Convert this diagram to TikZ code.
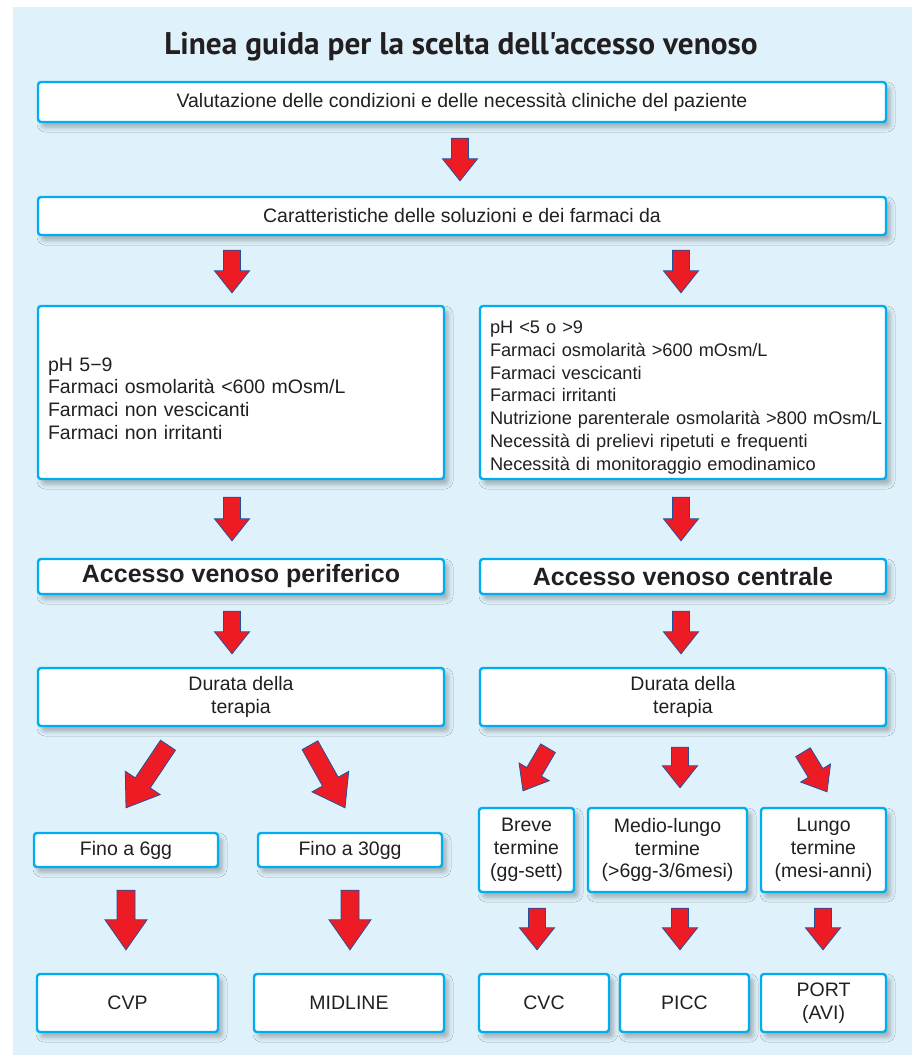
\documentclass[tikz,border=0pt]{standalone}
\usepackage{fontspec}
\setmainfont{Liberation Sans}
\newfontfamily\titlefont{PT Sans}
\usetikzlibrary{calc,shadows.blur}

\definecolor{bgblue}{HTML}{DFF1FA}
\definecolor{boxcyan}{HTML}{00AEEF}
\definecolor{arrred}{HTML}{ED1C24}
\definecolor{arrblue}{HTML}{23509C}
\definecolor{txtgray}{HTML}{231F20}

\tikzset{
  box/.style={draw=boxcyan, line width=2.4pt, fill=white, rounded corners=3pt,
    inner sep=0pt, align=center, text=txtgray, font=\fontsize{19.5}{22.8}\selectfont,
    blur shadow={shadow xshift=4pt, shadow yshift=-5pt, shadow blur radius=5pt, shadow opacity=30}},
  listbox/.style={box, align=left, inner xsep=10pt, text width=#1},
  headbox/.style={box, font=\fontsize{25}{28}\selectfont\bfseries},
  blockarrow/.style={fill=arrred, draw=arrblue, line width=0.8pt, line join=miter,
    to path={let \p1=(\tikztostart), \p2=(\tikztotarget),
      \n1={atan2(\y2-\y1,\x2-\x1)} in
      ({\x1-\aw*sin(\n1)},{\y1+\aw*cos(\n1)})
      -- ({\x2-\al*cos(\n1)-\aw*sin(\n1)},{\y2-\al*sin(\n1)+\aw*cos(\n1)})
      -- ({\x2-\al*cos(\n1)-\ah*sin(\n1)},{\y2-\al*sin(\n1)+\ah*cos(\n1)})
      -- (\p2)
      -- ({\x2-\al*cos(\n1)+\ah*sin(\n1)},{\y2-\al*sin(\n1)-\ah*cos(\n1)})
      -- ({\x2-\al*cos(\n1)+\aw*sin(\n1)},{\y2-\al*sin(\n1)-\aw*cos(\n1)})
      -- ({\x1+\aw*sin(\n1)},{\y1-\aw*cos(\n1)}) -- cycle}},
  arrsmall/.style={blockarrow, /utils/exec={\def\aw{8.5pt}\def\ah{17.5pt}\def\al{22pt}}},
  arrbig/.style={blockarrow, /utils/exec={\def\aw{9pt}\def\ah{21pt}\def\al{30pt}}},
}

\begin{document}
\begin{tikzpicture}[x=1pt, y=-1pt]
  % background
  \fill[white] (0,0) rectangle (915,1055);
  \fill[bgblue] (13,7) rectangle (912,1055);
  \useasboundingbox (0,0) rectangle (915,1055);

  \node[text=txtgray, font=\titlefont\fontsize{31.3}{33}\selectfont\bfseries] (title) at (461,47)
    {Linea guida per la scelta dell'accesso venoso};

  % top boxes
  \node[box, minimum width=848pt, minimum height=40pt] (val) at (462,102)
    {Valutazione delle condizioni e delle necessità cliniche del paziente};
  \node[box, minimum width=848pt, minimum height=38pt] (car) at (462,216)
    {Caratteristiche delle soluzioni e dei farmaci da};

  % criteria
  \node[listbox=386pt, minimum height=173pt] (lcrit) at (241,392.5)
    {pH 5−9\\Farmaci osmolarità <600 mOsm/L\\Farmaci non vescicanti\\Farmaci non irritanti\vspace{-12pt}};
  \node[listbox=386pt, minimum height=173pt, font=\fontsize{18.2}{22.7}\selectfont] (rcrit) at (683,392.5)
    {pH <5 o >9\\Farmaci osmolarità >600 mOsm/L\\Farmaci vescicanti\\Farmaci irritanti\\
     \mbox{Nutrizione parenterale osmolarità >800 mOsm/L}\\Necessità di prelievi ripetuti e frequenti\\
     Necessità di monitoraggio emodinamico\vspace{-10pt}};

  % access type
  \node[headbox, minimum width=406pt, minimum height=35pt] (lacc) at (241,576.5) {Accesso venoso periferico};
  \node[headbox, minimum width=406pt, minimum height=35pt] (racc) at (683,576.5) {Accesso venoso centrale};

  \node[box, minimum width=406pt, minimum height=58pt] (ldur) at (241,697) {Durata della\\terapia};
  \node[box, minimum width=406pt, minimum height=58pt] (rdur) at (683,697) {Durata della\\terapia};

  % duration
  \node[box, minimum width=184pt, minimum height=34pt] (fino6) at (126,850) {Fino a 6gg};
  \node[box, minimum width=184pt, minimum height=34pt] (fino30) at (350,850) {Fino a 30gg};
  \node[box, minimum width=95pt, minimum height=84pt] (breve) at (526.5,850) {Breve\\termine\\(gg-sett)};
  \node[box, minimum width=159pt, minimum height=84pt] (medio) at (667.5,850) {Medio-lungo\\termine\\(>6gg-3/6mesi)};
  \node[box, minimum width=125pt, minimum height=84pt] (lungo) at (823.5,850) {Lungo\\termine\\(mesi-anni)};

  % devices
  \node[box, minimum width=181pt, minimum height=58pt] (cvp) at (127.5,1003) {CVP};
  \node[box, minimum width=190pt, minimum height=58pt] (midline) at (349,1003) {MIDLINE};
  \node[box, minimum width=130pt, minimum height=58pt] (cvc) at (544,1003) {CVC};
  \node[box, minimum width=129pt, minimum height=58pt] (picc) at (684.5,1003) {PICC};
  \node[box, minimum width=125pt, minimum height=58pt] (port) at (823.5,1003) {PORT\\(AVI)};

  % arrows
  \draw[arrsmall] ([xshift=-2pt, yshift=-15pt]val.south) to ([xshift=-2pt, yshift=15pt]car.north);
  \draw[arrsmall] ([xshift=-230pt, yshift=-14pt]car.south) to ([xshift=-9pt, yshift=12pt]lcrit.north);
  \draw[arrsmall] ([xshift=219pt, yshift=-14pt]car.south) to ([xshift=-2pt, yshift=12pt]rcrit.north);
  \draw[arrsmall] ([xshift=-9pt, yshift=-17pt]lcrit.south) to ([xshift=-9pt, yshift=17pt]lacc.north);
  \draw[arrsmall] ([xshift=-2pt, yshift=-17pt]rcrit.south) to ([xshift=-2pt, yshift=17pt]racc.north);
  \draw[arrsmall] ([xshift=-9pt, yshift=-16pt]lacc.south) to ([xshift=-9pt, yshift=13pt]ldur.north);
  \draw[arrsmall] ([xshift=-2pt, yshift=-16pt]racc.south) to ([xshift=-2pt, yshift=13pt]rdur.north);

  \draw[arrbig] ([xshift=-73pt, yshift=-18pt]ldur.south) to ([yshift=24pt]fino6.north);
  \draw[arrbig] ([xshift=69pt, yshift=-18pt]ldur.south) to ([xshift=-5pt, yshift=24pt]fino30.north);
  \draw[arrbig] ([yshift=-22pt]fino6.south) to ([xshift=-1.5pt, yshift=23pt]cvp.north);
  \draw[arrbig] ([yshift=-22pt]fino30.south) to ([xshift=1pt, yshift=23pt]midline.north);

  \draw[arrsmall] ([xshift=-135pt, yshift=-21pt]rdur.south) to ([xshift=-3.5pt, yshift=16pt]breve.north);
  \draw[arrsmall] ([xshift=-3pt, yshift=-20pt]rdur.south) to ([xshift=12.5pt, yshift=19pt]medio.north);
  \draw[arrsmall] ([xshift=120pt, yshift=-25pt]rdur.south) to ([xshift=3.5pt, yshift=15pt]lungo.north);
  \draw[arrsmall] ([xshift=10.5pt, yshift=-15pt]breve.south) to ([xshift=-7pt, yshift=23pt]cvc.north);
  \draw[arrsmall] ([xshift=12.5pt, yshift=-15pt]medio.south) to ([xshift=-4.5pt, yshift=23pt]picc.north);
  \draw[arrsmall] ([xshift=-0.5pt, yshift=-15pt]lungo.south) to ([xshift=-0.5pt, yshift=23pt]port.north);
\end{tikzpicture}
\end{document}
